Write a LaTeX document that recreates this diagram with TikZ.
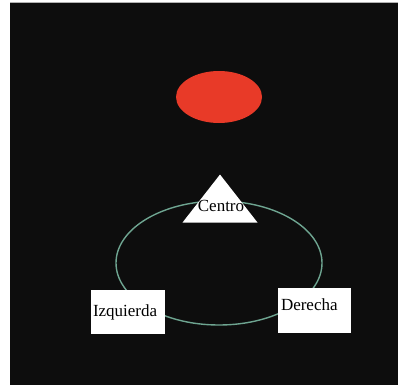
\documentclass[tikz,border=0pt]{standalone}
\usepackage{fontspec}
\setmainfont{Liberation Serif}
\usepackage{xcolor}
\usetikzlibrary{positioning,shapes.geometric}

\definecolor{orbit}{RGB}{110,165,145}
\definecolor{sun}{RGB}{232,58,40}

\begin{document}
\begin{tikzpicture}[
  x=1pt, y=-1pt,
  lbl/.style={font=\fontsize{17}{20}\selectfont, text=black},
  box/.style={lbl, draw=none, fill=white, rectangle, inner ysep=0pt, align=left},
  tri/.style={lbl, draw=none, fill=white, isosceles triangle, isosceles triangle stretches,
    shape border rotate=90, minimum width=75pt, minimum height=48pt, inner sep=0pt},
]
\useasboundingbox (0,0) rectangle (398,386);
\fill[white] (0,0) rectangle (398,386);
\fill[black!95] (10,3) rectangle (398,385);
\draw[gray!60, line width=0.8pt] (10,2.5) -- (398,2.5);

% orbit behind the nodes
\draw[orbit, line width=1.4pt] (219,263) ellipse [x radius=103, y radius=62];

\node[fill=sun, ellipse, minimum width=86pt, minimum height=52pt, inner sep=0pt] (sol) at (219,97) {};
\node[tri, anchor=apex] (centro) at (220,174) {};
\node[lbl, anchor=base] (centrotxt) at (221,211) {Centro};
\node[box, inner xsep=2pt, text width=70pt, minimum height=44pt] (izq) at (128,312) {Izquierda};
\node[box, inner xsep=3pt, text width=67pt, minimum height=45pt, text depth=12pt] (der) at (314.5,310.5) {Derecha};
\end{tikzpicture}
\end{document}
